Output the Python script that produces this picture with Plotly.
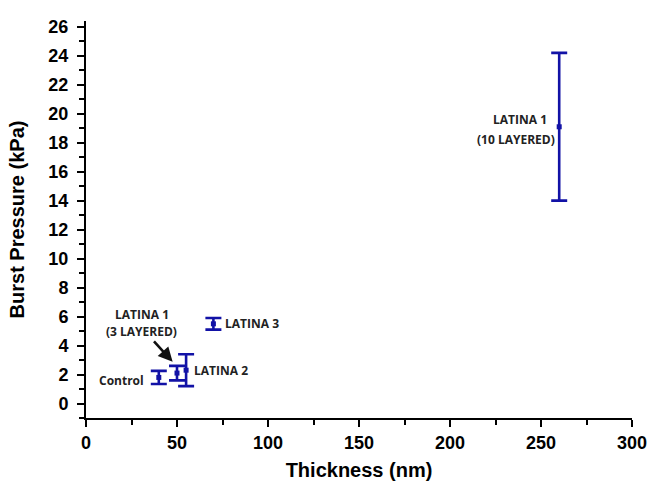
import plotly.graph_objects as go

names = ["Control", "LATINA 1 (3 LAYERED)", "LATINA 2", "LATINA 3", "LATINA 1 (10 LAYERED)"]
thickness = [40, 50, 55, 70, 260]
pressure = [1.8, 2.1, 2.3, 5.5, 19.1]
err_plus = [0.45, 0.5, 1.1, 0.4, 5.1]
err_minus = [0.45, 0.5, 1.1, 0.4, 5.1]

x_ticks = [0, 50, 100, 150, 200, 250, 300]
y_ticks = list(range(0, 27, 2))

blue = "#1212a6"

fig = go.Figure()
fig.add_trace(go.Scatter(
    x=thickness, y=pressure, mode="markers",
    marker=dict(symbol="square", size=5, color=blue),
    error_y=dict(type="data", array=err_plus, arrayminus=err_minus,
                 color=blue, thickness=2.6, width=8, visible=True),
    showlegend=False, hoverinfo="x+y",
))

afont = dict(family="Open Sans, Arial", size=12, color="#222222", weight="bold")
ann = []
ann.append(dict(x=32.8, y=1.57, text="Control",
                xanchor="right", yanchor="middle", showarrow=False, font=afont))
ann.append(dict(x=30.6, y=6.15, text="LATINA 1",
                xanchor="center", yanchor="middle", showarrow=False, font=afont))
ann.append(dict(x=30.6, y=4.95, text="(3 LAYERED)",
                xanchor="center", yanchor="middle", showarrow=False, font=afont))
ann.append(dict(x=47.6, y=2.88, text="", showarrow=True, arrowhead=2,
                arrowsize=1.1, arrowwidth=2.6, arrowcolor="#111111", ax=-20, ay=-22))
ann.append(dict(x=58.4, y=2.26, text="LATINA 2",
                xanchor="left", yanchor="middle", showarrow=False, font=afont))
ann.append(dict(x=75.5, y=5.53, text="LATINA 3",
                xanchor="left", yanchor="middle", showarrow=False, font=afont))
ann.append(dict(x=238.3, y=19.6, text="LATINA 1",
                xanchor="center", yanchor="middle", showarrow=False, font=afont))
ann.append(dict(x=258.8, y=18.2, text="(10 LAYERED)",
                xanchor="right", yanchor="middle", showarrow=False, font=afont))

tfont = dict(family="Liberation Sans, Arial", size=18, color="black", weight="bold")
axis_common = dict(showline=True, linecolor="black", linewidth=2, ticks="outside",
                   tickwidth=2, tickcolor="black", ticklen=7, showgrid=False, zeroline=False,
                   tickfont=tfont, mirror=False, automargin=False)

fig.update_layout(
    width=651, height=494,
    margin=dict(l=86, r=19, t=21, b=76),
    paper_bgcolor="white", plot_bgcolor="white",
    xaxis=dict(range=[0, 300], tickvals=x_ticks,
               minor=dict(dtick=25, ticks="outside", ticklen=5, tickwidth=2, tickcolor="black"),
               title=dict(text="<b>Thickness (nm)</b>", standoff=11,
                          font=dict(family="Liberation Sans, Arial", size=20, color="black")),
               **axis_common),
    yaxis=dict(range=[-1, 26.4], tickvals=y_ticks, ticklabelstandoff=5,
               minor=dict(dtick=1, ticks="outside", ticklen=5, tickwidth=2, tickcolor="black"),
               title=dict(text="<b>Burst Pressure (kPa)</b>", standoff=18,
                          font=dict(family="Liberation Sans, Arial", size=20, color="black")),
               **axis_common),
    annotations=ann,
)
fig.write_html("out.html", config={"displayModeBar": False},
               post_script="document.body.style.margin='0px';")
